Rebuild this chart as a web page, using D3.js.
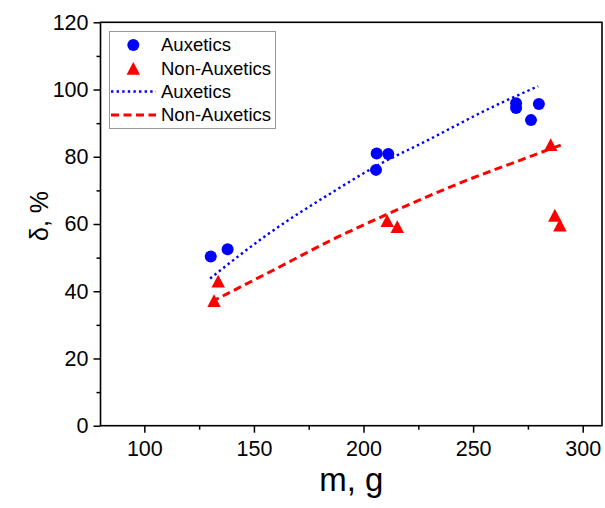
<!DOCTYPE html>
<html>
<head>
<meta charset="utf-8">
<script src="https://cdn.jsdelivr.net/npm/d3@7"></script>
<style>
  html, body { margin: 0; padding: 0; background: #fff; }
  svg { display: block; font-family: "Liberation Sans", Arial, sans-serif; }
</style>
</head>
<body>
<svg id="chart" width="605" height="508"></svg>
<script>
const massAux  = [130.3, 138.0, 205.7, 206.0, 211.3, 269.6, 269.6, 276.4, 280.0];
const deltaAux = [50.3, 52.5, 76.1, 81.0, 80.8, 95.9, 94.5, 90.9, 95.7];
const massNon  = [131.8, 133.7, 210.8, 215.4, 285.4, 287.3, 289.6];
const deltaNon = [37.2, 43.0, 61.0, 59.2, 83.6, 62.6, 59.7];

// fitted curves
const fitAuxM = [130.0, 155.8, 186.2, 205.7, 228.0, 258.5, 279.7];
const fitAuxD = [43.8, 56.7, 69.6, 77.2, 84.5, 94.7, 101.0];
const fitNonM = [130.7, 160.4, 187.8, 203.0, 219.7, 245.5, 273.7, 290.4];
const fitNonD = [36.9, 46.8, 56.0, 60.6, 65.5, 72.6, 79.5, 83.6];

const xTicks = [100, 150, 200, 250, 300];
const xMinor = [125, 175, 225, 275];
const yTicks = [0, 20, 40, 60, 80, 100, 120];
const yMinor = [10, 30, 50, 70, 90, 110];

const legendItems = [
  { label: 'Auxetics', kind: 'circle' },
  { label: 'Non-Auxetics', kind: 'triangle' },
  { label: 'Auxetics', kind: 'dot' },
  { label: 'Non-Auxetics', kind: 'dash' }
];

const BLUE = '#0000ff', RED = '#ff0000';
const L = 100.5, R = 602, T = 22.3, B = 425.7;

const svg = d3.select('#chart');
const x = d3.scaleLinear().domain([80, 308.8]).range([L, R]);
const y = d3.scaleLinear().domain([0, 120]).range([B, T]);

// triangle centred on its bounding box
function tri(cx, cy, s) {
  const h = s * 0.95;
  return `M${cx},${cy - h / 2}L${cx + s / 2},${cy + h / 2}L${cx - s / 2},${cy + h / 2}Z`;
}

// axes
svg.append('g').attr('transform', `translate(0,${B})`)
  .call(d3.axisBottom(x).tickValues(xTicks).tickSize(7).tickPadding(8).tickFormat(d3.format('d')));
svg.append('g').attr('transform', `translate(0,${B})`)
  .call(d3.axisBottom(x).tickValues(xMinor).tickSize(4).tickFormat(''));
svg.append('g').attr('transform', `translate(${L},0)`)
  .call(d3.axisLeft(y).tickValues(yTicks).tickSize(7).tickPadding(5).tickFormat(d3.format('d')));
svg.append('g').attr('transform', `translate(${L},0)`)
  .call(d3.axisLeft(y).tickValues(yMinor).tickSize(4).tickFormat(''));

svg.selectAll('.tick line').attr('stroke', '#000').attr('stroke-width', 1.5);
svg.selectAll('.domain').remove();
svg.selectAll('.tick text').attr('font-size', '21.5px').attr('fill', '#000')
  .attr('font-family', '"Liberation Sans", Arial, sans-serif');

// frame
svg.append('rect').attr('x', L).attr('y', T).attr('width', R - L).attr('height', B - T)
  .attr('fill', 'none').attr('stroke', '#000').attr('stroke-width', 1.6);

// fit lines
const line = d3.line().x(d => x(d[0])).y(d => y(d[1])).curve(d3.curveMonotoneX);
svg.append('path').datum(d3.zip(fitAuxM, fitAuxD)).attr('d', line)
  .attr('fill', 'none').attr('stroke', BLUE).attr('stroke-width', 2.4)
  .attr('stroke-dasharray', '2.4,3.2');
svg.append('path').datum(d3.zip(fitNonM, fitNonD)).attr('d', line)
  .attr('fill', 'none').attr('stroke', RED).attr('stroke-width', 3)
  .attr('stroke-dasharray', '8,4.5');

// points
svg.append('g').selectAll('circle').data(d3.zip(massAux, deltaAux)).join('circle')
  .attr('cx', d => x(d[0])).attr('cy', d => y(d[1])).attr('r', 6).attr('fill', BLUE);
svg.append('g').selectAll('path').data(d3.zip(massNon, deltaNon)).join('path')
  .attr('d', d => tri(x(d[0]), y(d[1]), 13.5)).attr('fill', RED);

// legend
const lg = svg.append('g');
lg.append('rect').attr('x', 109.5).attr('y', 31.5).attr('width', 166).attr('height', 97)
  .attr('fill', '#fff').attr('stroke', '#999').attr('stroke-width', 1);
const rowY = [45, 68.3, 91.5, 115];
legendItems.forEach((it, i) => {
  const cy = rowY[i];
  if (it.kind === 'circle') lg.append('circle').attr('cx', 133.3).attr('cy', cy).attr('r', 6).attr('fill', BLUE);
  if (it.kind === 'triangle') lg.append('path').attr('d', tri(133.3, cy, 13.5)).attr('fill', RED);
  if (it.kind === 'dot') lg.append('line').attr('x1', 111).attr('x2', 156).attr('y1', cy).attr('y2', cy)
    .attr('stroke', BLUE).attr('stroke-width', 2.4).attr('stroke-dasharray', '2.4,3.2');
  if (it.kind === 'dash') lg.append('line').attr('x1', 111).attr('x2', 156).attr('y1', cy).attr('y2', cy)
    .attr('stroke', RED).attr('stroke-width', 3).attr('stroke-dasharray', '8,4.5');
  lg.append('text').attr('x', 161).attr('y', cy).attr('dy', '0.35em')
    .attr('font-size', '18.5px').attr('fill', '#000').text(it.label);
});

// axis titles
svg.append('text').attr('x', (L + R) / 2).attr('y', 491).attr('text-anchor', 'middle')
  .attr('font-size', '33px').attr('fill', '#000').text('m, g');
svg.append('text').attr('transform', `translate(48,216) rotate(-90)`).attr('text-anchor', 'middle')
  .attr('font-size', '25px').attr('fill', '#000').text('δ, %');
</script>
</body>
</html>
